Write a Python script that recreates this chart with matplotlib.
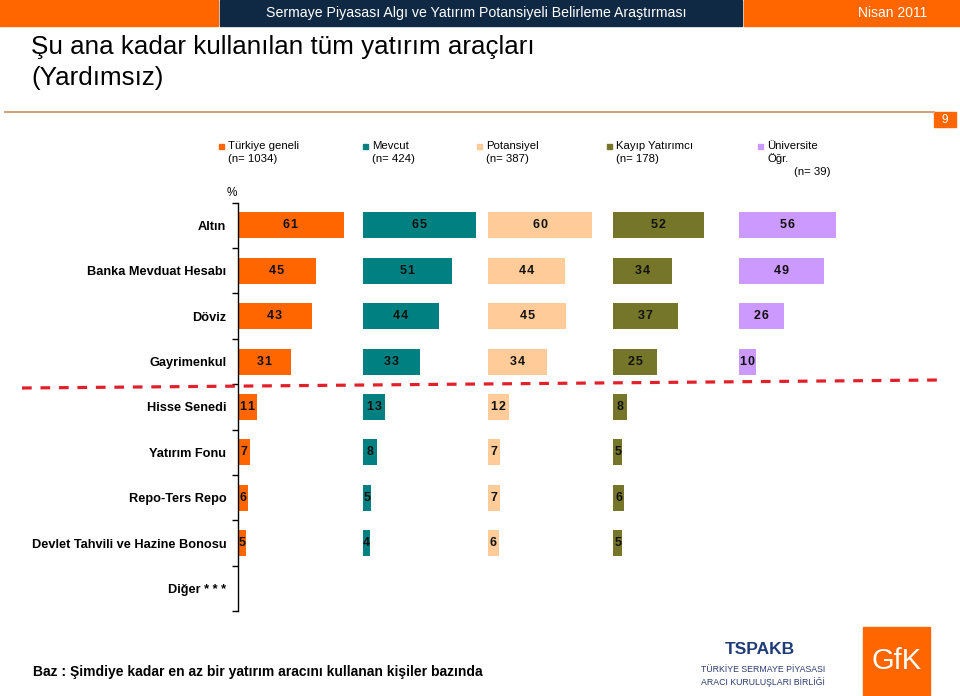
import matplotlib
matplotlib.use("Agg")
import matplotlib.pyplot as plt
from matplotlib.patches import Rectangle
from matplotlib.lines import Line2D

plt.rcParams['font.family'] = ['Liberation Sans', 'DejaVu Sans']
plt.rcParams['lines.scale_dashes'] = False

categories = ["Altın", "Banka Mevduat Hesabı", "Döviz", "Gayrimenkul", "Hisse Senedi",
              "Yatırım Fonu", "Repo-Ters Repo", "Devlet Tahvili ve Hazine Bonosu", "Diğer * * *"]
series_names = ["Türkiye geneli\n(n= 1034)", "Mevcut\n(n= 424)", "Potansiyel\n(n= 387)",
                "Kayıp Yatırımcı\n(n= 178)", "Üniversite\nÖğr.\n(n= 39)"]
turkiye = [61, 45, 43, 31, 11, 7, 6, 5, None]
mevcut = [65, 51, 44, 33, 13, 8, 5, 4, None]
potansiyel = [60, 44, 45, 34, 12, 7, 7, 6, None]
kayip = [52, 34, 37, 25, 8, 5, 6, 5, None]
universite = [56, 49, 26, 10, None, None, None, None, None]
series = [turkiye, mevcut, potansiyel, kayip, universite]
colors = ["#FF6600", "#008080", "#FFCC99", "#76762A", "#CC99FF"]
offset_step = 72

W, H = 960, 696
fig = plt.figure(figsize=(W / 100, H / 100), dpi=100)

def fx(px):
    return px / W

def fy(py):
    return 1 - py / H

# Header bars
for x0, x1, c in [(0, 218, "#FF6600"), (220, 742, "#0F2944"), (744, 960, "#FF6600")]:
    fig.patches.append(Rectangle((fx(x0), fy(26)), fx(x1) - fx(x0), 26 / H,
                                 transform=fig.transFigure, color=c, zorder=0))
fig.text(fx(476), fy(13), "Sermaye Piyasası Algı ve Yatırım Potansiyeli Belirleme Araştırması",
         color="white", fontsize=10.2, ha="center", va="center")
fig.text(fx(893), fy(13), "Nisan 2011", color="white", fontsize=10, ha="center", va="center")

# Title
fig.text(fx(31), fy(47), "Şu ana kadar kullanılan tüm yatırım araçları", fontsize=18.7,
         ha="left", va="center")
fig.text(fx(31), fy(78), "(Yardımsız)", fontsize=18.7, ha="left", va="center")

# Separator line and page box
fig.add_artist(Line2D([fx(5), fx(934)], [fy(112), fy(112)], color="#D2A47E", lw=1.5))
fig.patches.append(Rectangle((fx(934), fy(127)), 22 / W, 15 / H,
                             transform=fig.transFigure, color="#FF6600"))
fig.text(fx(945), fy(120), "9", color="white", fontsize=8.5, ha="center", va="center")

# Legend
legend_x = [219, 363, 477, 607, 758]
for lx, name, c in zip(legend_x, series_names, colors):
    fig.patches.append(Rectangle((fx(lx), fy(149)), 5 / W, 5 / H,
                                 transform=fig.transFigure, color=c))
    lines = name.split("\n")
    fig.text(fx(lx + 9), fy(146), lines[0], fontsize=8.2, ha="left", va="center")
    for i, ln in enumerate(lines[1:]):
        last = (i == len(lines) - 2)
        xx = lx + 36 if (len(lines) == 3 and last) else lx + 9
        fig.text(fx(xx), fy(159 + 13 * i), ln, fontsize=8.2, ha="left", va="center")

fig.text(fx(232), fy(193), "%", fontsize=8.5, ha="center", va="center")

# Chart axes
ax = fig.add_axes([fx(237.5), fy(611.3), fx(933.5) - fx(237.5), (611.3 - 202.7) / H])
n = len(categories)
ys = list(range(n))
for k, (vals, c) in enumerate(zip(series, colors)):
    off = k * offset_step
    for y, v in zip(ys, vals):
        if v is None:
            continue
        ax.barh(y, v, left=off, height=0.575, color=c, edgecolor="none")
        label = "\u200a".join(str(v))
        ax.text(off + v / 2, y, label, ha="center", va="center", fontsize=9,
                fontweight="bold", color="#111111")

ax.set_xlim(0, 400)
ax.set_ylim(n - 0.5, -0.5)
ax.set_yticks(ys)
ax.set_yticklabels(categories, fontsize=9.2, fontweight="bold")
ax.set_yticks([i - 0.5 for i in range(n + 1)], minor=True)
ax.tick_params(axis="y", which="major", length=0, pad=8)
ax.tick_params(axis="y", which="minor", length=4, width=1)
ax.set_xticks([])
for s in ["top", "right", "bottom"]:
    ax.spines[s].set_visible(False)
ax.spines["left"].set_linewidth(1)
ax.patch.set_alpha(0)

# Red dashed separator
fig.add_artist(Line2D([fx(22), fx(939)], [fy(388), fy(380)], color="#E2202A", lw=2.3,
                      dashes=(7, 6.3)))

# Footer
fig.text(fx(33), fy(672), "Baz : Şimdiye kadar en az bir yatırım aracını kullanan kişiler bazında",
         fontsize=10, fontweight="bold", ha="left", va="center")

# Logos
fig.text(fx(760), fy(649), "TSPAKB", fontsize=12.5, fontweight="bold", color="#1F3C78",
         ha="center", va="center")
fig.text(fx(763), fy(669), "TÜRKİYE SERMAYE PİYASASI", fontsize=6.3, color="#2B3C6E",
         ha="center", va="center")
fig.text(fx(763), fy(682), "ARACI KURULUŞLARI BİRLİĞİ", fontsize=6.3, color="#2B3C6E",
         ha="center", va="center")
fig.patches.append(Rectangle((fx(863), fy(695)), 67 / W, 68 / H,
                             transform=fig.transFigure, color="#FF6600"))
fig.text(fx(896.5), fy(661), "GfK", fontsize=21, color="white", ha="center", va="center")

fig.savefig("out.png", dpi=100)
